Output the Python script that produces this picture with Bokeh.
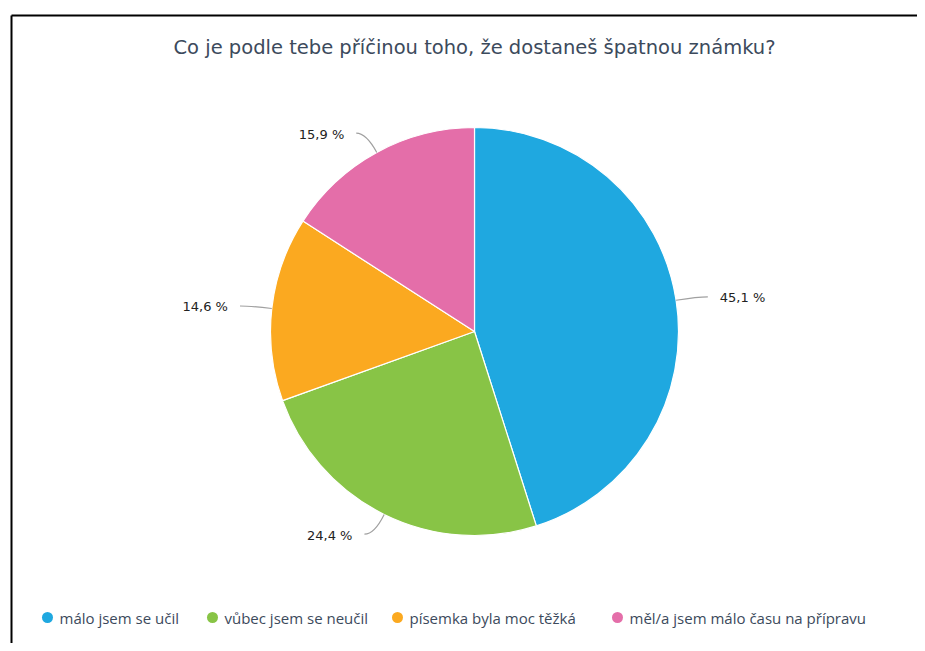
import math
from bokeh.plotting import figure
from bokeh.models import Range1d
from bokeh.core.properties import value
from bokeh.embed import file_html
from bokeh.resources import INLINE

# ---- data ----
title = "Co je podle tebe příčinou toho, že dostaneš špatnou známku?"
categories = ["málo jsem se učil", "vůbec jsem se neučil", "písemka byla moc těžká",
              "měl/a jsem málo času na přípravu"]
shares = [45.1, 24.4, 14.6, 15.9]
colors = ["#1fa8e0", "#88c446", "#fba920", "#e46ea9"]

# ---- layout (screen pixel -> data: x = X, y = H - Y) ----
W, H = 917, 643
def dx(X):
    return X
def dy(Y):
    return H - Y

cx, cy = dx(474), dy(331)
R = 204

p = figure(width=W, height=H, output_backend="svg", toolbar_location=None,
           x_range=Range1d(0, W), y_range=Range1d(0, H), min_border=0)
p.axis.visible = False
p.grid.visible = False
p.outline_line_color = None
p.background_fill_color = "white"

# frame of the original document box
p.multi_line(xs=[[dx(11), dx(11)], [dx(11), W + 5]],
             ys=[[-5, dy(15)], [dy(15), dy(15)]], line_color="black", line_width=2)

# title
p.text(x=[dx(474)], y=[dy(47)], text=[title], text_font=value("DejaVu Sans"),
       text_font_size="19.5px", text_color="#3c4a5c", text_align="center",
       text_baseline="middle")

# pie
total = sum(shares)
starts, ends, mids = [], [], []
cum = 0.0
for s in shares:
    a0 = math.pi / 2 - 2 * math.pi * cum / total
    cum += s
    a1 = math.pi / 2 - 2 * math.pi * cum / total
    starts.append(a1)
    ends.append(a0)
    mids.append((a0 + a1) / 2)

p.wedge(x=cx, y=cy, radius=R, radius_units="screen", start_angle=starts, end_angle=ends,
        fill_color=colors, line_color="white", line_width=1.2)

# labels with leader lines
for s, m in zip(shares, mids):
    c, sn = math.cos(m), math.sin(m)
    x0, y0 = cx + R * c, cy + R * sn
    x1, y1 = cx + (R + 22) * c, cy + (R + 22) * sn
    side = 1 if c >= 0 else -1
    x2, y2 = x1 + side * 10, y1
    p.quadratic(x0=[x0], y0=[y0], x1=[x2], y1=[y2], cx=[x1], cy=[y1],
                line_color="#a0a0a0", line_width=1.2)
    lab = f"{s:.1f}".replace(".", ",") + " %"
    p.text(x=[x2 + side * 12], y=[y2 - 1], text=[lab], text_font=value("DejaVu Sans"),
           text_font_size="13px", text_color="#222222",
           text_align="left" if side > 0 else "right", text_baseline="middle")

# legend
leg_x = [47, 212, 397, 617]
leg_y = 617
p.scatter(x=[dx(v) for v in leg_x], y=[dy(leg_y)] * 4, size=11, fill_color=colors,
          line_color=None)
p.text(x=[dx(v + 12) for v in leg_x], y=[dy(leg_y)] * 4, text=categories,
       text_font=value("Open Sans"), text_font_size="15px", text_color="#3c4a5c",
       text_align="left", text_baseline="middle")

open("out.html", "w").write(file_html(p, INLINE))
